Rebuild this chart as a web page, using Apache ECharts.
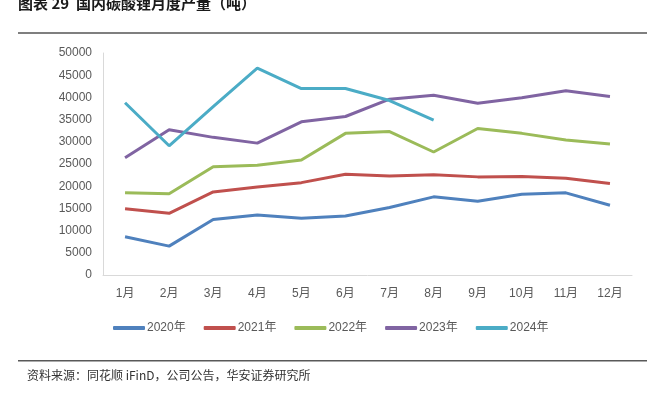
<!DOCTYPE html>
<html>
<head>
<meta charset="utf-8">
<script src="https://cdn.jsdelivr.net/npm/echarts@6/dist/echarts.min.js"></script>
<style>
  html, body { margin: 0; padding: 0; background: #fff; }
  #chart { width: 647px; height: 398px; }
</style>
</head>
<body>
<div id="chart"></div>
<script>
const months = ['1月', '2月', '3月', '4月', '5月', '6月', '7月', '8月', '9月', '10月', '11月', '12月'];
const y2020 = [8600, 6500, 12500, 13500, 12800, 13300, 15200, 17600, 16600, 18200, 18500, 15700];
const y2021 = [14900, 13900, 18700, 19800, 20800, 22700, 22300, 22600, 22100, 22200, 21800, 20600];
const y2022 = [18500, 18300, 24400, 24700, 25900, 31900, 32300, 27700, 33000, 31900, 30400, 29500];
const y2023 = [26400, 32700, 31000, 29700, 34500, 35700, 39600, 40500, 38700, 39900, 41500, 40200];
const y2024 = [38800, 29100, 37900, 46600, 42000, 42000, 39300, 34900];

const seriesNames = ['2020年', '2021年', '2022年', '2023年', '2024年'];
const seriesData = [y2020, y2021, y2022, y2023, y2024];
const colors = ['#4F81BD', '#C0504D', '#9BBB59', '#8064A2', '#4BACC6'];

const font = '"Liberation Sans", "Noto Sans CJK SC", sans-serif';
const chart = echarts.init(document.getElementById('chart'));
chart.setOption({
  animation: false,
  textStyle: { fontFamily: font },
  grid: { left: 103, right: 15, top: 53, bottom: 123, containLabel: false },
  graphic: [
    { type: 'text', left: 18, top: -4, style: { text: '图表 29  国内碳酸锂月度产量（吨）', font: 'bold 15px "Noto Sans CJK SC", sans-serif', fill: '#1a1a1a' } },
    { type: 'rect', shape: { x: 18, y: 32, width: 629, height: 2 }, style: { fill: '#7f7f7f' } },
    { type: 'rect', shape: { x: 18, y: 360, width: 629, height: 1.5 }, style: { fill: '#595959' } },
    { type: 'text', left: 27, top: 369, style: { text: '资料来源：同花顺 iFinD，公司公告，华安证券研究所', font: '12px "Noto Sans CJK SC", sans-serif', fill: '#333' } }
  ],
  legend: {
    left: 108, top: 317,
    icon: 'roundRect',
    itemWidth: 32, itemHeight: 4, itemGap: 18,
    textStyle: { color: '#595959', fontSize: 12, padding: [0, 0, 0, -3] },
    data: seriesNames
  },
  xAxis: {
    type: 'category', data: months, boundaryGap: true,
    axisLine: { lineStyle: { color: '#d9d9d9', width: 1 } },
    axisTick: { show: false },
    axisLabel: { color: '#595959', fontSize: 12, margin: 13 }
  },
  yAxis: {
    type: 'value', min: 0, max: 50000, interval: 5000,
    axisLine: { show: true, lineStyle: { color: '#d9d9d9', width: 1 } },
    axisTick: { show: false },
    splitLine: { show: false },
    axisLabel: { color: '#595959', fontSize: 12, margin: 11, formatter: v => String(v) }
  },
  series: seriesNames.map((name, i) => ({
    name, type: 'line', data: seriesData[i],
    symbol: 'none', color: colors[i],
    lineStyle: { width: 3, color: colors[i] }
  }))
});
</script>
</body>
</html>
